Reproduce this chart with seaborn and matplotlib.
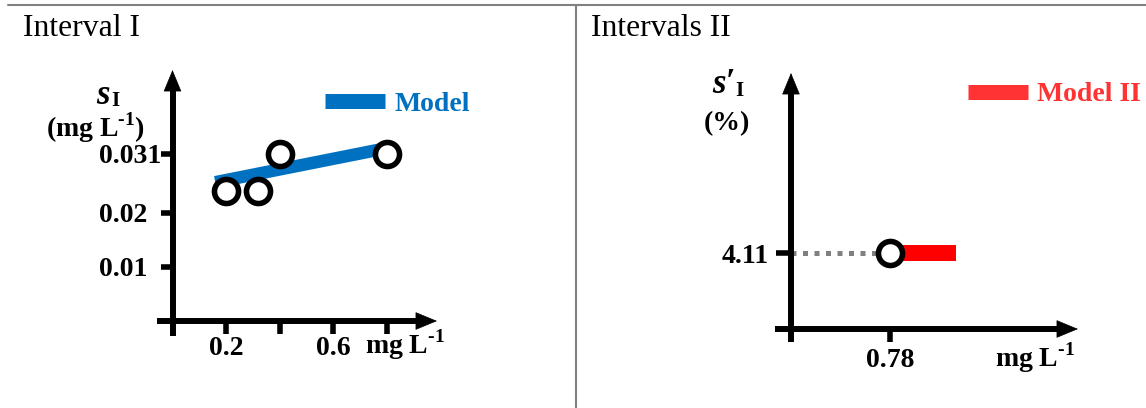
import numpy as np
import pandas as pd
import matplotlib
matplotlib.use("Agg")
import matplotlib.pyplot as plt
from matplotlib.lines import Line2D
from matplotlib.patches import ArrowStyle
import seaborn as sns

# ---- data -------------------------------------------------------------
# Interval I: measured standard deviations and the linear model
conc_i = [0.2, 0.32, 0.4, 0.8]
sd_i = [0.024, 0.024, 0.031, 0.031]
model_x = [0.16, 0.80]
model_y = [0.0257, 0.0320]
xticks_i = [0.2, 0.4, 0.6, 0.8]
xticklabels_i = ["0.2", "", "0.6", ""]
yticks_i = [0.01, 0.02, 0.031]
yticklabels_i = ["0.01", "0.02", "0.031"]

# Intervals II: single relative standard deviation and its model range
conc_ii = [0.78]
rsd_ii = [4.11]
model_ii_x = [0.78, 1.30]
model_ii_y = [4.11, 4.11]
xticks_ii = [0.78]
yticks_ii = [4.11]

BLUE = "#0070C0"
RED = "#FF0000"
RED_LIGHT = "#FF3333"
GRAY = "#808080"

sns.set_style("white")
plt.rcParams["font.family"] = ["Liberation Serif", "DejaVu Serif"]
plt.rcParams["mathtext.fontset"] = "custom"
plt.rcParams["mathtext.rm"] = "Liberation Serif:bold"
plt.rcParams["mathtext.bf"] = "Liberation Serif:bold"
for key in ("text.color", "axes.labelcolor", "xtick.color", "ytick.color"):
    plt.rcParams[key] = "black"

W, H = 1146, 408
fig = plt.figure(figsize=(W / 100, H / 100), dpi=100)


def fx(x):
    return x / W


def fy(y):
    return 1 - y / H


def axes_px(left, right, top, bottom):
    return fig.add_axes([left / W, (H - bottom) / H, (right - left) / W, (bottom - top) / H])


LW_AX = 4.3


def draw_arrow_axes(ax, over_x_px, over_y_px):
    pos = ax.get_position()
    wpx, hpx = pos.width * W, pos.height * H
    ox, oy = over_x_px / wpx, over_y_px / hpx
    hx, hy = 16 / wpx, 16 / hpx
    # shafts
    ax.plot([-ox, 1 - hx], [0, 0], color="k", lw=LW_AX, solid_capstyle="butt",
            transform=ax.transAxes, clip_on=False, zorder=5)
    ax.plot([0, 0], [-oy, 1 - hy], color="k", lw=LW_AX, solid_capstyle="butt",
            transform=ax.transAxes, clip_on=False, zorder=5)
    # heads
    style = ArrowStyle("-|>", head_length=14.5, head_width=6)
    ax.annotate("", xy=(1, 0), xytext=(1 - 2 * hx, 0), xycoords="axes fraction",
                arrowprops=dict(arrowstyle=style, mutation_scale=1, lw=0.5, color="k",
                                shrinkA=0, shrinkB=0), zorder=6)
    ax.annotate("", xy=(0, 1), xytext=(0, 1 - 2 * hy), xycoords="axes fraction",
                arrowprops=dict(arrowstyle=style, mutation_scale=1, lw=0.5, color="k",
                                shrinkA=0, shrinkB=0), zorder=6)
    for s in ax.spines.values():
        s.set_visible(False)


def sym_label(x_s, y_base, s_text, x_sub, y_sub):
    # italic bold symbol with an upright bold subscript
    fig.text(fx(x_s), fy(y_base), s_text, ha="left", va="baseline", fontsize=25,
             fontstyle="italic", fontweight="bold")
    fig.text(fx(x_sub), fy(y_sub), "I", ha="left", va="baseline", fontsize=15,
             fontweight="bold")


TICK_FS = 20
MARK_S = 300
MARK_LW = 4

# ---- Interval I --------------------------------------------------------
ax1 = axes_px(172.5, 437, 70, 321)
ax1.set_xlim(0, (437 - 172.5) / 267.5)
ax1.set_ylim(0, (321 - 70) / 5400)
sns.lineplot(x=model_x, y=model_y, ax=ax1, color=BLUE, lw=9, label="Model",
             solid_capstyle="butt", zorder=3)
sns.scatterplot(x=conc_i, y=sd_i, ax=ax1, s=MARK_S, facecolor="white", edgecolor="black",
                linewidth=MARK_LW, zorder=7, clip_on=False)
draw_arrow_axes(ax1, 15.5, 15)
ax1.set_xticks(xticks_i, xticklabels_i, fontsize=TICK_FS, fontweight="bold")
ax1.set_yticks(yticks_i, yticklabels_i, fontsize=TICK_FS, fontweight="bold")
ax1.tick_params(axis="x", direction="out", length=9, width=4, pad=1.5, bottom=True)
ax1.tick_params(axis="y", direction="out", length=9, width=4, pad=44, left=True)
for lab in ax1.get_yticklabels():
    lab.set_horizontalalignment("left")
ax1.set_xlabel("")
ax1.set_ylabel("")
leg1 = ax1.legend(loc="center left", bbox_to_anchor=(fx(325), fy(104)),
                  bbox_transform=fig.transFigure, frameon=False, borderpad=0,
                  borderaxespad=0, handlelength=2.15, handletextpad=0.36,
                  prop=dict(weight="bold", size=TICK_FS))
leg1.get_lines()[0].set_linewidth(10.8)
leg1.get_lines()[0].set_solid_capstyle("butt")
leg1.get_texts()[0].set_color(BLUE)

sym_label(96, 104, "s", 111, 106)
fig.text(fx(96), fy(137), r"(mg L$^{\text{-1}}$)", ha="center", va="baseline",
         fontsize=TICK_FS, fontweight="bold")
fig.text(fx(405), fy(354), r"mg L$^{\text{-1}}$", ha="center", va="baseline",
         fontsize=TICK_FS, fontweight="bold")

# ---- Intervals II ------------------------------------------------------
ax2 = axes_px(791, 1078, 73, 329)
ax2.set_xlim(0, 287 / 126.9)
ax2.set_ylim(0, 256 / 18.49)
sns.lineplot(x=[0, conc_ii[0]], y=[rsd_ii[0], rsd_ii[0]], ax=ax2, color=GRAY, lw=3.6,
             linestyle=(0, (1, 1.3)), dash_capstyle="butt", zorder=3)
sns.lineplot(x=model_ii_x, y=model_ii_y, ax=ax2, color=RED, lw=11.5, label="Model II",
             solid_capstyle="butt", zorder=4)
sns.scatterplot(x=conc_ii, y=rsd_ii, ax=ax2, s=MARK_S, facecolor="white", edgecolor="black",
                linewidth=MARK_LW, zorder=7, clip_on=False)
draw_arrow_axes(ax2, 16, 13)
ax2.set_xticks(xticks_ii, [f"{v:.2f}" for v in xticks_ii], fontsize=TICK_FS, fontweight="bold")
ax2.set_yticks(yticks_ii, [f"{v:.2f}" for v in yticks_ii], fontsize=TICK_FS, fontweight="bold")
ax2.tick_params(axis="x", direction="out", length=9.5, width=4, pad=4.3, bottom=True)
ax2.tick_params(axis="y", direction="out", length=10.5, width=4, pad=5.8, left=True)
ax2.set_xlabel("")
ax2.set_ylabel("")
leg2 = ax2.legend(loc="center left", bbox_to_anchor=(fx(968), fy(94.5)),
                  bbox_transform=fig.transFigure, frameon=False, borderpad=0,
                  borderaxespad=0, handlelength=2.15, handletextpad=0.34,
                  prop=dict(weight="bold", size=TICK_FS))
leg2.get_lines()[0].set_linewidth(10.8)
leg2.get_lines()[0].set_color(RED_LIGHT)
leg2.get_lines()[0].set_solid_capstyle("butt")
leg2.get_texts()[0].set_color(RED_LIGHT)

sym_label(712, 93, "s\u2032", 735, 96)
fig.text(fx(727), fy(130), "(%)", ha="center", va="baseline",
         fontsize=TICK_FS, fontweight="bold")
fig.text(fx(1035), fy(367), r"mg L$^{\text{-1}}$", ha="center", va="baseline",
         fontsize=TICK_FS, fontweight="bold")

# ---- panel titles and frame -------------------------------------------
fig.text(fx(23), fy(36), "Interval I", ha="left", va="baseline", fontsize=22.8)
fig.text(fx(591), fy(36), "Intervals II", ha="left", va="baseline", fontsize=22.8)
fig.add_artist(Line2D([fx(8), 1], [fy(5), fy(5)], color=GRAY, lw=1.5))
fig.add_artist(Line2D([fx(576), fx(576)], [fy(5), 0], color=GRAY, lw=1.5))

fig.savefig("out.png", dpi=100)
